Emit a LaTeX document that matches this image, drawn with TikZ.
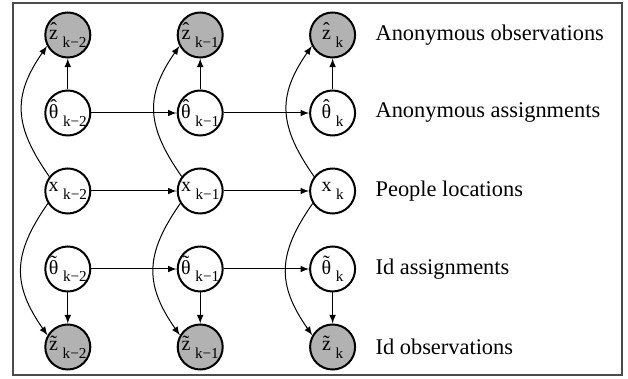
\documentclass[tikz,border=0pt]{standalone}
\usepackage{fontspec}
\setmainfont{Liberation Serif}
\usetikzlibrary{positioning,arrows}
\tikzstyle{hidden}=[circle, draw=black, line width=1pt, fill=white, minimum size=22.5pt,
        inner sep=0pt, font=\fontsize{10}{12}\selectfont]
\tikzstyle{observed}=[hidden, fill=gray!60]
\tikzstyle{rowlabel}=[anchor=west, inner sep=0pt, font=\fontsize{11.2}{13}\selectfont]
\newcommand{\varsub}[2]{\makebox[0pt][c]{#1\hspace{2.3pt}\raisebox{-3.8pt}{\fontsize{7.6}{9}\selectfont #2}}}
\newcommand{\markover}[3]{\ooalign{\hfil\raisebox{#3}{#1}\hfil\cr#2\cr}}

\begin{document}
\begin{tikzpicture}[node distance=39pt and 66.2pt, on grid, line width=0.5pt]
    \useasboundingbox (0,0) rectangle (314pt,-189.5pt);
    \draw[black!70, line width=0.8pt] (6.5pt,-1.5pt) rectangle (311pt,-187.5pt);

    % time k-2
    \node (zh1) [observed] at (33.9pt,-17.5pt) {\varsub{\markover{ˆ}{z}{1.3pt}}{k−2}};
    \node (th1) [hidden, below=of zh1] {\varsub{\markover{ˆ}{θ}{2.8pt}}{k−2}};
    \node (x1) [hidden, below=of th1] {\varsub{x}{k−2}};
    \node (tt1) [hidden, below=of x1] {\varsub{\markover{˜}{θ}{2.4pt}}{k−2}};
    \node (zt1) [observed, below=of tt1] {\varsub{\markover{˜}{z}{0.8pt}}{k−2}};

    % time k-1
    \node (zh2) [observed, right=of zh1] {\varsub{\markover{ˆ}{z}{1.3pt}}{k−1}};
    \node (th2) [hidden, right=of th1] {\varsub{\markover{ˆ}{θ}{2.8pt}}{k−1}};
    \node (x2) [hidden, right=of x1] {\varsub{x}{k−1}};
    \node (tt2) [hidden, right=of tt1] {\varsub{\markover{˜}{θ}{2.4pt}}{k−1}};
    \node (zt2) [observed, right=of zt1] {\varsub{\markover{˜}{z}{0.8pt}}{k−1}};

    % time k
    \node (zh3) [observed, right=of zh2] {\varsub{\markover{ˆ}{z}{1.3pt}}{k}};
    \node (th3) [hidden, right=of th2] {\varsub{\markover{ˆ}{θ}{2.8pt}}{k}};
    \node (x3) [hidden, right=of x2] {\varsub{x}{k}};
    \node (tt3) [hidden, right=of tt2] {\varsub{\markover{˜}{θ}{2.4pt}}{k}};
    \node (zt3) [observed, right=of zt2] {\varsub{\markover{˜}{z}{0.8pt}}{k}};

    % row labels
    \node (Lzh) [right=21.25pt of zh3, rowlabel] {Anonymous observations};
    \node (Lth) [right=21.25pt of th3, rowlabel] {Anonymous assignments};
    \node (Lx) [right=21.25pt of x3, rowlabel] {People locations};
    \node (Ltt) [right=21.25pt of tt3, rowlabel] {Id assignments};
    \node (Lzt) [right=21.25pt of zt3, rowlabel] {Id observations};

    \draw[-latex] (th1) -- (th2);
    \draw[-latex] (th2) -- (th3);
    \draw[-latex] (x1) -- (x2);
    \draw[-latex] (x2) -- (x3);
    \draw[-latex] (tt1) -- (tt2);
    \draw[-latex] (tt2) -- (tt3);

    \draw[-latex] (th1) -- (zh1);
    \draw[-latex] (th2) -- (zh2);
    \draw[-latex] (th3) -- (zh3);
    \draw[-latex] (tt1) -- (zt1);
    \draw[-latex] (tt2) -- (zt2);
    \draw[-latex] (tt3) -- (zt3);

    \draw[-latex] (x1.142) to[out=125, in=235, looseness=1.2] (zh1.208);
    \draw[-latex] (x2.142) to[out=125, in=235, looseness=1.2] (zh2.208);
    \draw[-latex] (x3.142) to[out=125, in=235, looseness=1.2] (zh3.208);
    \draw[-latex] (x1.212) to[out=235, in=125, looseness=1.2] (zt1.150);
    \draw[-latex] (x2.212) to[out=235, in=125, looseness=1.2] (zt2.150);
    \draw[-latex] (x3.212) to[out=235, in=125, looseness=1.2] (zt3.150);

\end{tikzpicture}
\end{document}
